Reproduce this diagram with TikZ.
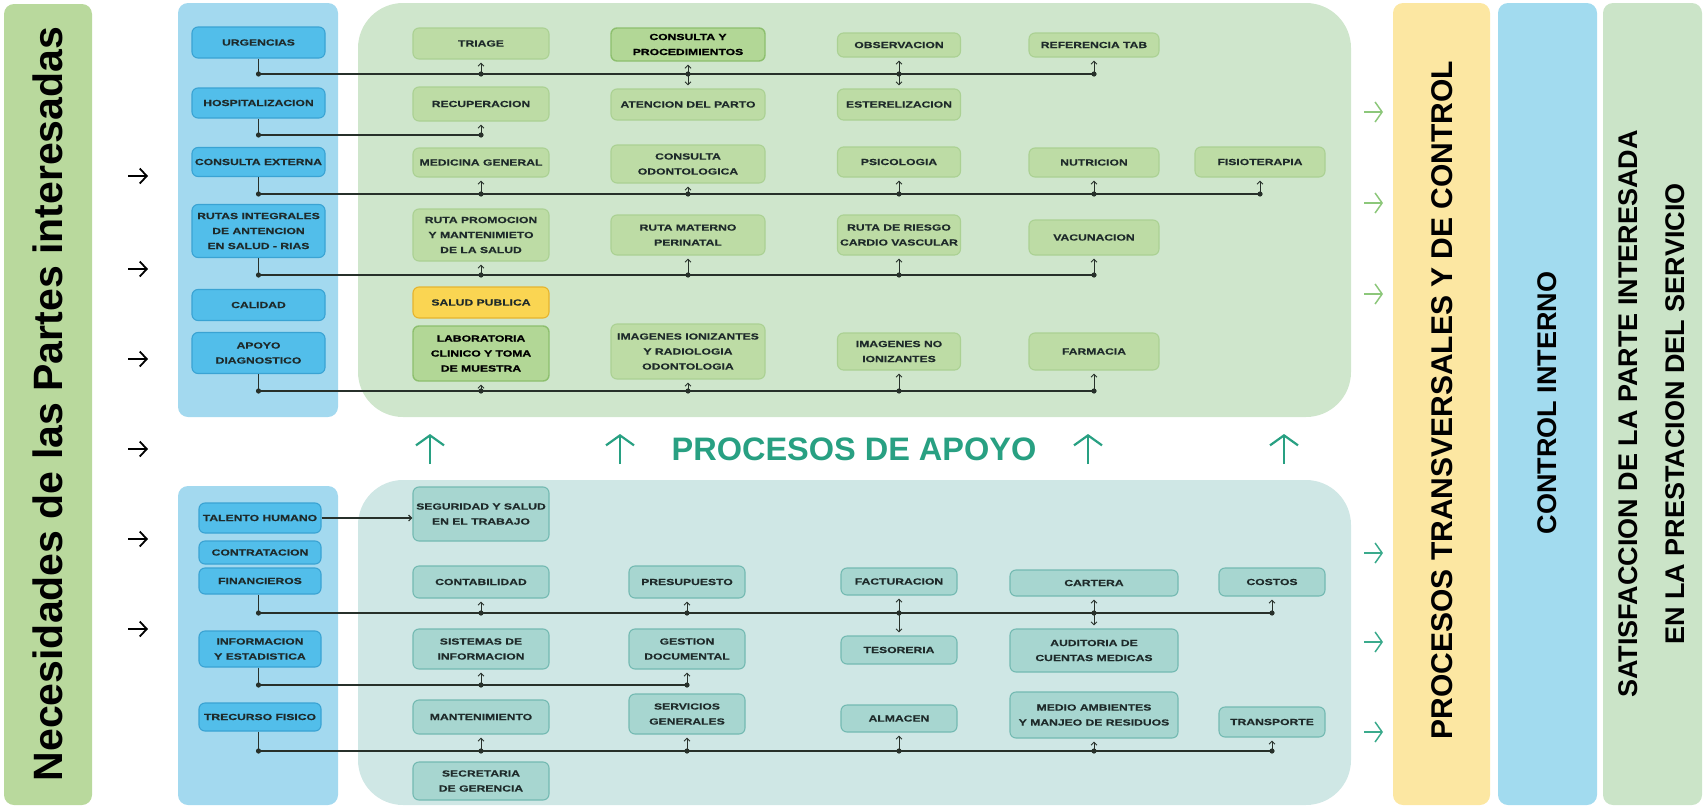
\documentclass[tikz,border=0pt]{standalone}
\usepackage{fontspec}
\setmainfont{Liberation Sans}
\newfontfamily\boxfont[FakeStretch=1.38,FakeBold=0.4]{Liberation Sans}
\newfontfamily\boxfontb[FakeStretch=1.38,FakeBold=1.2]{Liberation Sans}
\usetikzlibrary{arrows.meta}
\definecolor{barG}{HTML}{B9D99D}
\definecolor{panB}{HTML}{A3D9EF}
\definecolor{panG}{HTML}{CFE6CC}
\definecolor{panT}{HTML}{CFE7E5}
\definecolor{colY}{HTML}{FCE7A2}
\definecolor{colB}{HTML}{A2DBEF}
\definecolor{colG}{HTML}{CBE4C8}
\definecolor{boxB}{HTML}{52BEEA}
\definecolor{boxBd}{HTML}{3AA3D3}
\definecolor{boxG}{HTML}{BDDCA5}
\definecolor{boxGd}{HTML}{ABD193}
\definecolor{boxGs}{HTML}{B2D796}
\definecolor{boxGsd}{HTML}{8DBF6E}
\definecolor{boxT}{HTML}{A7D6D0}
\definecolor{boxTd}{HTML}{74BAB2}
\definecolor{boxY}{HTML}{FAD552}
\definecolor{boxYd}{HTML}{E5B42E}
\definecolor{txt}{HTML}{1E2A2A}
\definecolor{lineC}{HTML}{27302A}
\definecolor{apoyo}{HTML}{28A082}
\definecolor{arrG}{HTML}{8CC77A}
\definecolor{arrT}{HTML}{3AAA8C}
\begin{document}
\begin{tikzpicture}[x=1pt,y=-1pt,
  bx/.style={rounded corners=6pt, line width=1.1pt, align=center, inner sep=2pt,
    font=\boxfont\bfseries\fontsize{8.8}{15}\selectfont, text=txt},
  bbox/.style={bx, fill=boxB, draw=boxBd, minimum width=133},
  lbox/.style={bx, fill=boxB, draw=boxBd, minimum width=122},
  gbox/.style={bx, fill=boxG, draw=boxGd},
  sbox/.style={bx, fill=boxGs, draw=boxGsd, line width=1.4pt, font=\boxfontb\bfseries\fontsize{8.8}{15}\selectfont, text=black},
  ybox/.style={bx, fill=boxY, draw=boxYd},
  tbox/.style={bx, fill=boxT, draw=boxTd},
  conn/.style={line width=1.6pt, draw=lineC},
  arr/.style={line width=0.9pt, draw=lineC, -{Straight Barb[length=3pt,width=6pt]}},
  jdot/.style={fill=lineC},
  bigarr/.style={line width=1.8pt, -{Straight Barb[length=7pt,width=15pt]}},
  uparr/.style={line width=2.2pt, draw=apoyo, -{Straight Barb[length=10pt,width=28pt]}},
  rarr/.style={line width=1.5pt, -{Straight Barb[length=7pt,width=20pt]}},
  vtitle/.style={rotate=90, align=center, text=black, font=\bfseries\fontsize{#1}{#1}\selectfont},
]
\useasboundingbox (0,0) rectangle (1706,809);
% ---------- background panels ----------
\fill[barG, rounded corners=10pt] (4,4) rectangle (92,805);
\fill[panB, rounded corners=10pt] (178,3) rectangle (338,417);
\fill[panG, rounded corners=45pt] (358,3) rectangle (1351,417);
\fill[panB, rounded corners=10pt] (178,486) rectangle (338,805);
\fill[panT, rounded corners=45pt] (358,480) rectangle (1351,805);
\fill[colY, rounded corners=10pt] (1393,3) rectangle (1490,805);
\fill[colB, rounded corners=10pt] (1498,3) rectangle (1597,805);
\fill[colG, rounded corners=10pt] (1603,3) rectangle (1702,805);
% ---------- titles ----------
\node[vtitle={41}] (nec) at (48,404) {Necesidades de las Partes interesadas};
\node[vtitle={30}] (ptc) at (1442,400) {PROCESOS TRANSVERSALES Y DE CONTROL};
\node[vtitle={27}] (cin) at (1547,403) {CONTROL INTERNO};
\node[rotate=90, align=center, text=black, font=\bfseries\fontsize{27}{47}\selectfont] (sat) at (1652,414)
  {SATISFACCION DE LA PARTE INTERESADA\\EN LA PRESTACION DEL SERVICIO};
\node[text=apoyo, font=\bfseries\fontsize{32.5}{36}\selectfont] (apoyo) at (854,449) {PROCESOS DE APOYO};
% ---------- big arrows ----------
\foreach \yy [count=\i] in {176,269,359,449,539,629}{
  \coordinate (la\i) at (128,\yy); \coordinate (lb\i) at (148,\yy);
  \draw[bigarr, black] (la\i) -- (lb\i);
}
\foreach \yy [count=\i] in {112,203,294}{
  \coordinate (ra\i) at (1364,\yy); \coordinate (rb\i) at (1383,\yy);
  \draw[rarr, arrG] (ra\i) -- (rb\i);
}
\foreach \yy [count=\i] in {553,642,732}{
  \coordinate (sa\i) at (1364,\yy); \coordinate (sb\i) at (1383,\yy);
  \draw[rarr, arrT] (sa\i) -- (sb\i);
}
\foreach \xx [count=\i] in {430,620,1088,1284}{
  \coordinate (ua\i) at (\xx,464); \coordinate (ub\i) at (\xx,434);
  \draw[uparr] (ua\i) -- (ub\i);
}
% ---------- top left blue boxes ----------
\node[bbox, minimum height=31] (urg) at (258.5,42.5) {URGENCIAS};
\node[bbox, minimum height=30] (hos) at (258.5,103) {HOSPITALIZACION};
\node[bbox, minimum height=29] (cex) at (258.5,162) {CONSULTA EXTERNA};
\node[bbox, minimum height=53] (rut) at (258.5,231) {RUTAS INTEGRALES\\DE ANTENCION\\EN SALUD - RIAS};
\node[bbox, minimum height=31] (cal) at (258.5,305) {CALIDAD};
\node[bbox, minimum height=41] (apo) at (258.5,353) {APOYO\\DIAGNOSTICO};
% ---------- top green boxes ----------
\node[gbox, minimum width=136, minimum height=31] (tri) at (481,43.5) {TRIAGE};
\node[gbox, minimum width=136, minimum height=34] (rec) at (481,104) {RECUPERACION};
\node[gbox, minimum width=136, minimum height=29] (med) at (481,162.5) {MEDICINA GENERAL};
\node[gbox, minimum width=136, minimum height=52] (rpm) at (481,235) {RUTA PROMOCION\\Y MANTENIMIETO\\DE LA SALUD};
\node[ybox, minimum width=136, minimum height=31] (spu) at (481,302.5) {SALUD PUBLICA};
\node[sbox, minimum width=136, minimum height=55] (lab) at (481,353.5) {LABORATORIA\\CLINICO Y TOMA\\DE MUESTRA};
\node[sbox, minimum width=154, minimum height=33] (cyp) at (688,44.5) {CONSULTA Y\\PROCEDIMIENTOS};
\node[gbox, minimum width=154, minimum height=31] (adp) at (688,104.5) {ATENCION DEL PARTO};
\node[gbox, minimum width=154, minimum height=38] (cod) at (688,164) {CONSULTA\\ODONTOLOGICA};
\node[gbox, minimum width=154, minimum height=40] (rmp) at (688,235) {RUTA MATERNO\\PERINATAL};
\node[gbox, minimum width=154, minimum height=55] (imi) at (688,351.5) {IMAGENES IONIZANTES\\Y RADIOLOGIA\\ODONTOLOGIA};
\node[gbox, minimum width=123, minimum height=24] (obs) at (899,45) {OBSERVACION};
\node[gbox, minimum width=123, minimum height=31] (est) at (899,104.5) {ESTERELIZACION};
\node[gbox, minimum width=123, minimum height=30] (psi) at (899,162) {PSICOLOGIA};
\node[gbox, minimum width=123, minimum height=40] (rrc) at (899,235) {RUTA DE RIESGO\\CARDIO VASCULAR};
\node[gbox, minimum width=123, minimum height=37] (ini) at (899,351.5) {IMAGENES NO\\IONIZANTES};
\node[gbox, minimum width=130, minimum height=24] (ref) at (1094,45) {REFERENCIA TAB};
\node[gbox, minimum width=130, minimum height=29] (nut) at (1094,162.5) {NUTRICION};
\node[gbox, minimum width=130, minimum height=35] (vac) at (1094,237.5) {VACUNACION};
\node[gbox, minimum width=130, minimum height=37] (far) at (1094,351.5) {FARMACIA};
\node[gbox, minimum width=130, minimum height=30] (fis) at (1260,162) {FISIOTERAPIA};
% ---------- top connectors ----------
\coordinate (t1) at (258.5,74);
\coordinate (t2) at (258.5,135);
\coordinate (t3) at (258.5,194);
\coordinate (t4) at (258.5,275);
\coordinate (t5) at (258.5,391);
\draw[conn] (urg.south) -- (t1) -- (ref.south |- t1);
\draw[conn] (hos.south) -- (t2) -- (rec.south |- t2);
\draw[conn] (cex.south) -- (t3) -- (fis.south |- t3);
\draw[conn] (rut.south) -- (t4) -- (vac.south |- t4);
\draw[conn] (apo.south) -- (t5) -- (far.south |- t5);
\foreach \c in {t1,t2,t3,t4,t5} \fill[jdot] (\c) circle (2.6);
\foreach \b/\c in {tri/t1,cyp/t1,obs/t1,ref/t1,rec/t2,med/t3,cod/t3,psi/t3,nut/t3,fis/t3,rpm/t4,rmp/t4,rrc/t4,vac/t4,lab/t5,imi/t5,ini/t5,far/t5}{
  \fill[jdot] (\b.south |- \c) circle (2.6);
  \draw[arr] (\b.south |- \c) -- ([yshift=-3pt]\b.south);
}
\foreach \b/\c in {adp/t1,est/t1}{
  \draw[arr] (\b.north |- \c) -- ([yshift=3pt]\b.north);
}
% ---------- bottom left blue boxes ----------
\node[lbox, minimum height=30] (tal) at (260,518) {TALENTO HUMANO};
\node[lbox, minimum height=23] (con) at (260,552.5) {CONTRATACION};
\node[lbox, minimum height=26] (fin) at (260,581) {FINANCIEROS};
\node[lbox, minimum height=36] (inf) at (260,649) {INFORMACION\\Y ESTADISTICA};
\node[lbox, minimum height=28] (trf) at (260,717) {TRECURSO FISICO};
% ---------- bottom teal boxes ----------
\node[tbox, minimum width=136, minimum height=54] (seg) at (481,514) {SEGURIDAD Y SALUD\\EN EL TRABAJO};
\node[tbox, minimum width=136, minimum height=32] (cnt) at (481,582) {CONTABILIDAD};
\node[tbox, minimum width=136, minimum height=40] (sis) at (481,649) {SISTEMAS DE\\INFORMACION};
\node[tbox, minimum width=136, minimum height=34] (man) at (481,717) {MANTENIMIENTO};
\node[tbox, minimum width=136, minimum height=38] (sec) at (481,781) {SECRETARIA\\DE GERENCIA};
\node[tbox, minimum width=116, minimum height=32] (pre) at (687,582) {PRESUPUESTO};
\node[tbox, minimum width=116, minimum height=40] (ges) at (687,649) {GESTION\\DOCUMENTAL};
\node[tbox, minimum width=116, minimum height=40] (ser) at (687,714) {SERVICIOS\\GENERALES};
\node[tbox, minimum width=116, minimum height=27] (fac) at (899,581.5) {FACTURACION};
\node[tbox, minimum width=116, minimum height=28] (tes) at (899,650) {TESORERIA};
\node[tbox, minimum width=116, minimum height=27] (alm) at (899,718.5) {ALMACEN};
\node[tbox, minimum width=168, minimum height=26] (car) at (1094,583) {CARTERA};
\node[tbox, minimum width=168, minimum height=43] (aud) at (1094,650.5) {AUDITORIA DE\\CUENTAS MEDICAS};
\node[tbox, minimum width=168, minimum height=46] (mam) at (1094,715) {MEDIO AMBIENTES\\Y MANJEO DE RESIDUOS};
\node[tbox, minimum width=106, minimum height=28] (cos) at (1272,582) {COSTOS};
\node[tbox, minimum width=106, minimum height=30] (tra) at (1272,722) {TRANSPORTE};
% ---------- bottom connectors ----------
\draw[conn, line width=1.2pt, -{Straight Barb[length=3pt,width=6pt]}] (tal.east) -- (seg.west |- tal.east);
\coordinate (b1) at (258.5,613);
\coordinate (b2) at (258.5,685);
\coordinate (b3) at (258.5,751);
\draw[conn] (fin.south -| b1) -- (b1) -- (cos.south |- b1);
\draw[conn] (inf.south -| b2) -- (b2) -- (ges.south |- b2);
\draw[conn] (trf.south -| b3) -- (b3) -- (tra.south |- b3);
\foreach \c in {b1,b2,b3} \fill[jdot] (\c) circle (2.6);
\foreach \b/\c in {cnt/b1,pre/b1,fac/b1,car/b1,cos/b1,sis/b2,ges/b2,man/b3,ser/b3,alm/b3,mam/b3,tra/b3}{
  \fill[jdot] (\b.south |- \c) circle (2.6);
  \draw[arr] (\b.south |- \c) -- ([yshift=-3pt]\b.south);
}
\foreach \b/\c in {tes/b1,aud/b1}{
  \draw[arr] (\b.north |- \c) -- ([yshift=3pt]\b.north);
}
\end{tikzpicture}
\end{document}
